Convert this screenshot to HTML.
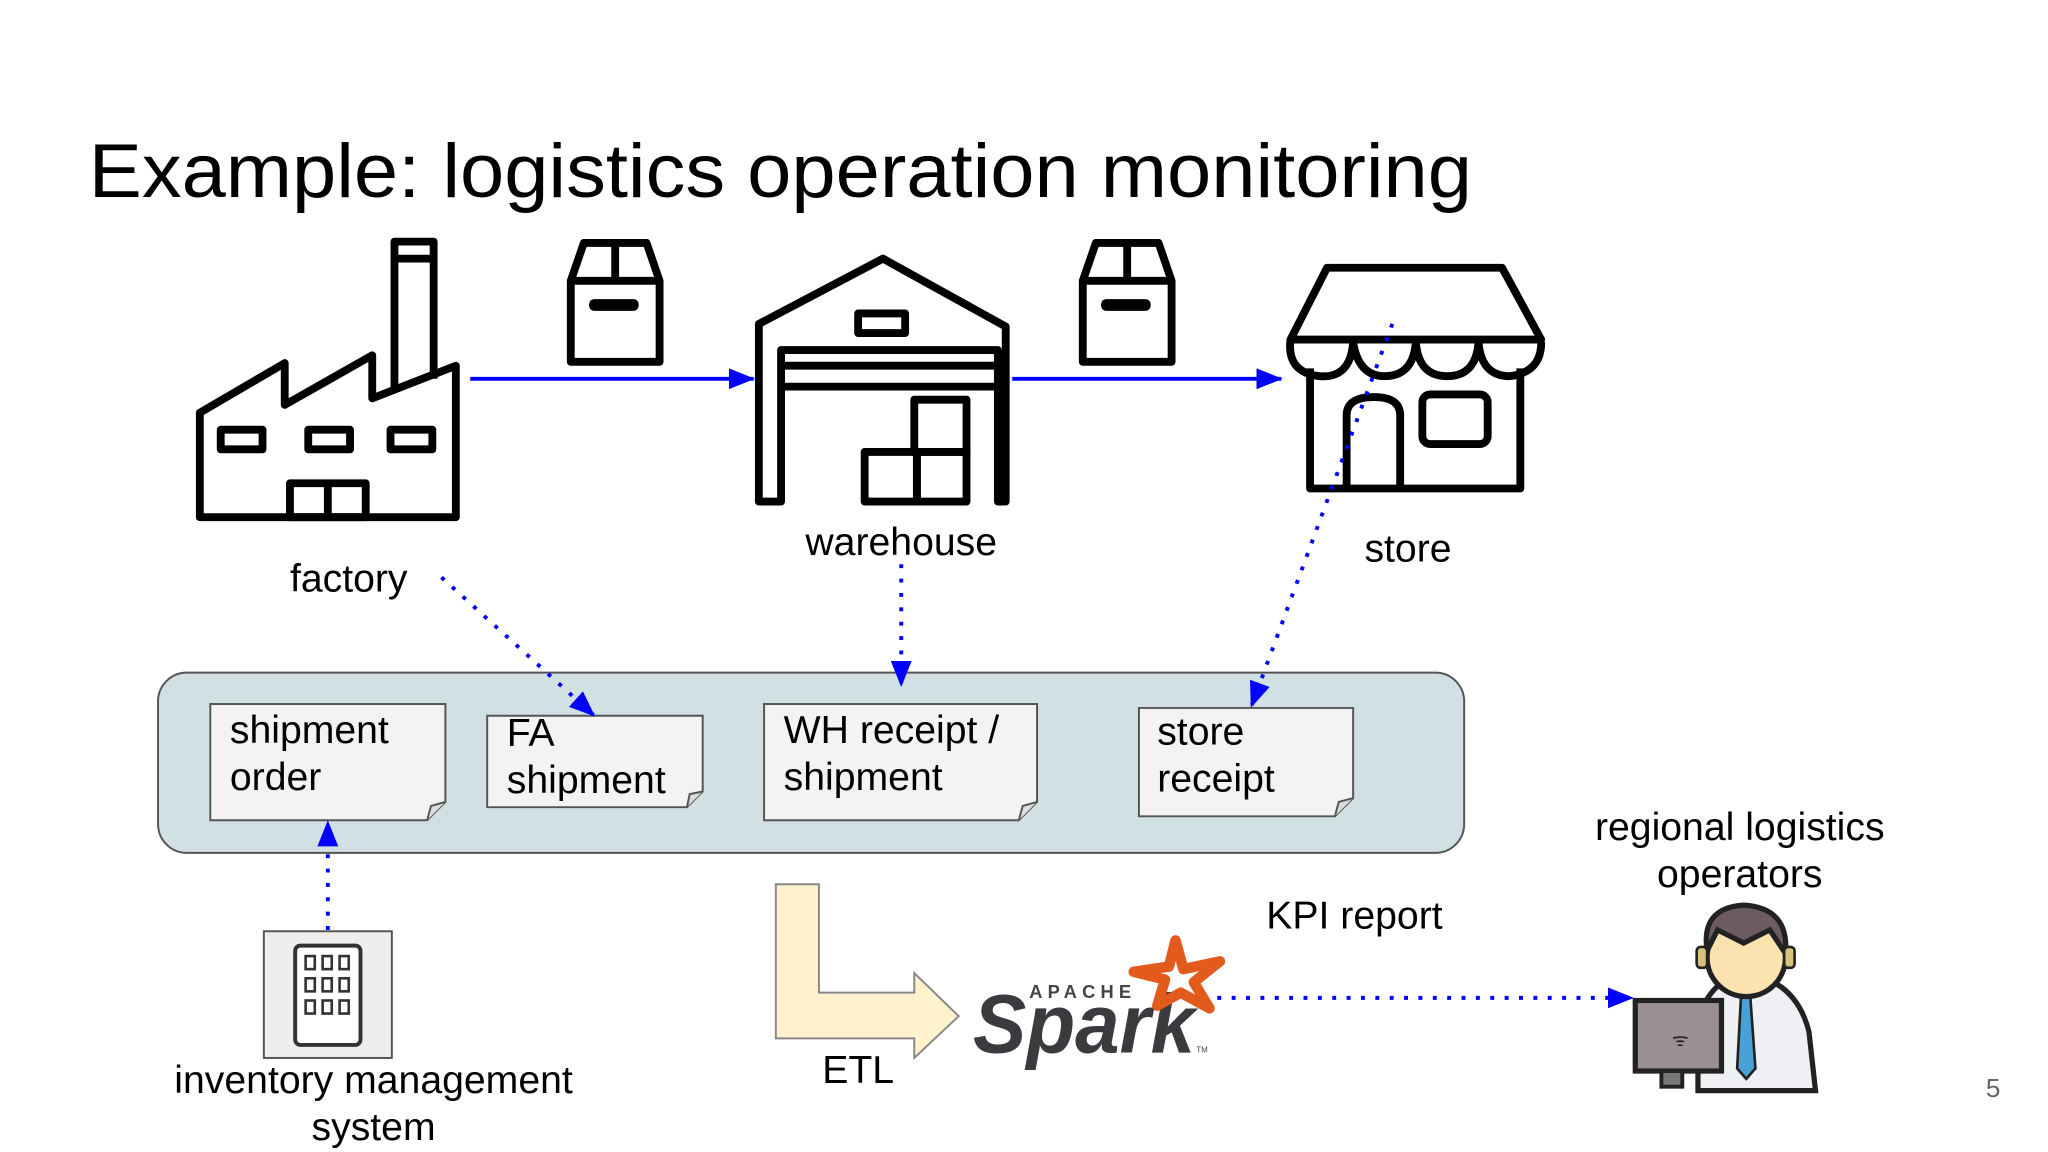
<!DOCTYPE html>
<html><head><meta charset="utf-8"><style>
html,body{margin:0;padding:0;background:#fff;}
svg{display:block;}
text{font-family:"Liberation Sans",sans-serif;}
</style></head><body>
<svg width="2048" height="1152" viewBox="0 0 1568 882" preserveAspectRatio="none" xmlns="http://www.w3.org/2000/svg">
<defs>
<marker id="ab" viewBox="0 0 20 16" refX="19" refY="8" markerWidth="20" markerHeight="16" orient="auto" markerUnits="userSpaceOnUse">
<path d="M0,0 L20,8 L0,16 z" fill="#0000ff"/>
</marker>
</defs>
<rect width="1568" height="882" fill="#fff"/>
<text x="68" y="151" font-size="58" textLength="1059" lengthAdjust="spacingAndGlyphs" fill="#000">Example: logistics operation monitoring</text>

<!-- factory -->
<g fill="none" stroke="#000" stroke-width="6" stroke-linejoin="round">
<path d="M153,396 L153,316 L218,278 L218,310 L285,272 L285,305 L349,280 L349,396 Z"/>
<path d="M302,300 L302,185 L332,185 L332,290"/>
<line x1="302" y1="198" x2="332" y2="198"/>
<rect x="169" y="329" width="32" height="15"/>
<rect x="236" y="329" width="32" height="15"/>
<rect x="299" y="329" width="32" height="15"/>
<rect x="222" y="370" width="58" height="26"/>
<line x1="251" y1="370" x2="251" y2="396"/>
</g>
<!-- package icons -->
<g fill="none" stroke="#000" stroke-width="6" stroke-linejoin="round">
<path d="M437,277 L437,215 L447,186 L495,186 L505,215 L505,277 Z"/>
<line x1="437" y1="215" x2="505" y2="215"/><line x1="471" y1="186" x2="471" y2="215"/>
<path d="M829,277 L829,215 L839,186 L887,186 L897,215 L897,277 Z"/>
<line x1="829" y1="215" x2="897" y2="215"/><line x1="863" y1="186" x2="863" y2="215"/>
</g>
<rect x="451" y="229" width="38" height="9" rx="4" fill="#000"/>
<rect x="843" y="229" width="38" height="9" rx="4" fill="#000"/>
<!-- warehouse -->
<g fill="none" stroke="#000" stroke-width="6" stroke-linejoin="round">
<path d="M581,384 L581,248 L676,198 L770,250 L770,384 L764,384 L764,268 L598,268 L598,384 Z"/>
<rect x="657" y="240" width="36" height="15"/>
<line x1="598" y1="280" x2="764" y2="280"/>
<line x1="598" y1="296" x2="764" y2="296"/>
<rect x="700" y="306" width="40" height="40"/>
<rect x="662" y="346" width="40" height="38"/>
<rect x="702" y="346" width="38" height="38"/>
</g>
<!-- store -->
<g fill="none" stroke="#000" stroke-width="6" stroke-linejoin="round">
<path d="M1016,205 L1150,205 L1180,260 L988,260 Z"/>
<path d="M988,260 Q985,285 1010,288 Q1034,290 1036,262 Q1040,288 1060,288 Q1082,288 1084,262 Q1086,288 1108,288 Q1130,288 1132,262 Q1134,288 1156,288 Q1180,285 1180,262"/>
<path d="M1003,282 L1003,374 L1164,374 L1164,282"/>
<path d="M1031,374 L1031,318 Q1031,304 1052,304 Q1072,304 1072,318 L1072,374"/>
<rect x="1089" y="302" width="50" height="38" rx="6"/>
</g>
<!-- blue arrows -->
<line x1="360" y1="290" x2="577" y2="290" stroke="#0000ff" stroke-width="3" marker-end="url(#ab)"/>
<line x1="775" y1="290" x2="981" y2="290" stroke="#0000ff" stroke-width="3" marker-end="url(#ab)"/>

<g font-size="30" fill="#000" text-anchor="middle">
<text x="267" y="453">factory</text>
<text x="690" y="425">warehouse</text>
<text x="1078" y="430">store</text>
</g>

<!-- container -->
<rect x="121" y="515" width="1000" height="138" rx="22" fill="#d0e0e3" stroke="#555" stroke-width="1.5"/>
<g fill="#f3f3f3" stroke="#555" stroke-width="1.5">
<path d="M161,539 H341 V614 L327,628 H161 Z"/><path d="M327,628 L330,617 L341,614" fill="#ddd"/>
<path d="M373,548 H538 V606 L526,618 H373 Z"/><path d="M526,618 L528,608 L538,606" fill="#ddd"/>
<path d="M585,539 H794 V614 L780,628 H585 Z"/><path d="M780,628 L783,617 L794,614" fill="#ddd"/>
<path d="M872,542 H1036 V611 L1022,625 H872 Z"/><path d="M1022,625 L1025,614 L1036,611" fill="#ddd"/>
</g>
<g font-size="30" fill="#000">
<text x="176" y="569">shipment</text><text x="176" y="605">order</text>
<text x="388" y="571">FA</text><text x="388" y="607">shipment</text>
<text x="600" y="569">WH receipt /</text><text x="600" y="605">shipment</text>
<text x="886" y="570">store</text><text x="886" y="606">receipt</text>
</g>

<!-- dotted arrows -->
<g stroke="#0000ff" stroke-width="3" stroke-dasharray="3,8" fill="none">
<line x1="338" y1="442" x2="455" y2="548" marker-end="url(#ab)"/>
<line x1="690" y1="432" x2="690" y2="525" marker-end="url(#ab)"/>
<line x1="1066" y1="248" x2="958" y2="541" marker-end="url(#ab)"/>
<line x1="251" y1="712" x2="251" y2="629" marker-end="url(#ab)"/>
<line x1="932" y1="764" x2="1250" y2="764" marker-end="url(#ab)"/>
</g>

<!-- inventory icon -->
<rect x="202" y="713" width="98" height="97" fill="#eee" stroke="#555" stroke-width="1.5"/>
<rect x="226" y="724" width="50" height="76" rx="4" fill="#fff" stroke="#333" stroke-width="3"/>
<g fill="none" stroke="#333" stroke-width="2">
<rect x="234" y="732" width="7" height="10"/><rect x="247" y="732" width="7" height="10"/><rect x="260" y="732" width="7" height="10"/>
<rect x="234" y="749" width="7" height="10"/><rect x="247" y="749" width="7" height="10"/><rect x="260" y="749" width="7" height="10"/>
<rect x="234" y="766" width="7" height="10"/><rect x="247" y="766" width="7" height="10"/><rect x="260" y="766" width="7" height="10"/>
</g>
<g font-size="30" fill="#000" text-anchor="middle">
<text x="286" y="837">inventory management</text>
<text x="286" y="873">system</text>
<text x="657" y="829">ETL</text>
<text x="1037" y="711">KPI report</text>
<text x="1332" y="643">regional logistics</text>
<text x="1332" y="679">operators</text>
</g>

<!-- ETL arrow -->
<path d="M594,677 L627,677 L627,760 L700,760 L700,745 L734,778 L700,810 L700,795 L594,795 Z" fill="#fff2cc" stroke="#888" stroke-width="1.5"/>

<!-- spark logo -->
<text x="788" y="764" font-size="14" font-weight="bold" fill="#444" letter-spacing="4">APACHE</text>
<text x="745" y="806" font-size="64" font-weight="bold" font-style="italic" fill="#3c3a3e" textLength="170" lengthAdjust="spacingAndGlyphs">Spark</text>
<path d="M900,720 L906,742 L934,736 L914,752 L926,772 L904,760 L886,770 L892,750 L868,744 L895,740 Z" fill="none" stroke="#e25a1c" stroke-width="8" stroke-linejoin="round"/>
<text x="916" y="806" font-size="6" fill="#444">TM</text>

<!-- person icon -->
<path d="M1300,835 L1300,780 Q1310,750 1335,745 Q1375,750 1385,790 L1390,835 Z" fill="#eef0f3" stroke="#222" stroke-width="4"/>
<path d="M1333,762 L1340,762 L1344,818 L1337,826 L1330,818 Z" fill="#4aa0d8" stroke="#222" stroke-width="2"/>
<ellipse cx="1337" cy="733" rx="30" ry="30" fill="#fbe3b0" stroke="#222" stroke-width="4"/>
<path d="M1307,728 Q1302,695 1335,693 Q1370,695 1367,730 L1355,712 L1335,722 L1315,712 Z" fill="#6e5a62" stroke="#222" stroke-width="4"/>
<rect x="1299" y="725" width="8" height="16" rx="3" fill="#d8c27a" stroke="#222" stroke-width="2"/>
<rect x="1366" y="725" width="8" height="16" rx="3" fill="#d8c27a" stroke="#222" stroke-width="2"/>
<rect x="1252" y="766" width="66" height="54" fill="#9a8f95" stroke="#222" stroke-width="4"/>
<rect x="1272" y="820" width="16" height="12" fill="#777" stroke="#222" stroke-width="3"/>
<text x="1280" y="801" font-size="14" fill="#222">ᯤ</text>

<text x="1526" y="840" font-size="20" fill="#666" text-anchor="middle">5</text>
</svg>
</body></html>
